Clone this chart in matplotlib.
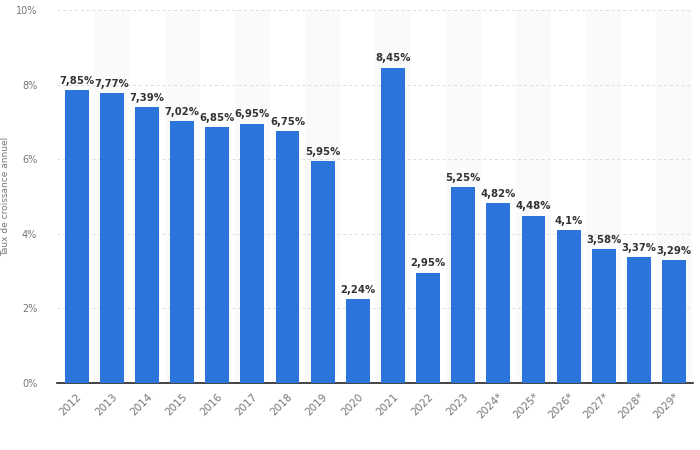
import matplotlib
matplotlib.use('Agg')
import matplotlib.pyplot as plt
from matplotlib.ticker import FuncFormatter

# Données
annees = ['2012', '2013', '2014', '2015', '2016', '2017', '2018', '2019', '2020',
          '2021', '2022', '2023', '2024*', '2025*', '2026*', '2027*', '2028*', '2029*']
taux = [7.85, 7.77, 7.39, 7.02, 6.85, 6.95, 6.75, 5.95, 2.24,
        8.45, 2.95, 5.25, 4.82, 4.48, 4.1, 3.58, 3.37, 3.29]
etiquettes = ['7,85%', '7,77%', '7,39%', '7,02%', '6,85%', '6,95%', '6,75%', '5,95%', '2,24%',
              '8,45%', '2,95%', '5,25%', '4,82%', '4,48%', '4,1%', '3,58%', '3,37%', '3,29%']

fig = plt.figure(figsize=(7, 4.5), dpi=100, facecolor='white')
ax = fig.add_axes([0.081, 0.149, 0.909, 0.829])

x = range(len(annees))

# bandes de fond alternées (très légères)
for i in x:
    if i % 2 == 1:
        ax.axvspan(i - 0.5, i + 0.5, color='#fafafa', zorder=0, lw=0)

ax.bar(x, taux, width=0.68, color='#2a74dc', zorder=3)

for i, v in enumerate(taux):
    ax.text(i, v + 0.12, etiquettes[i], ha='center', va='bottom',
            fontsize=7.3, fontweight='bold', color='#333333', zorder=4)

ax.set_xlim(-0.57, len(annees) - 0.46)
ax.set_ylim(0, 10)
ax.set_yticks([0, 2, 4, 6, 8, 10])
ax.yaxis.set_major_formatter(FuncFormatter(lambda v, p: f'{int(v)}%'))
ax.set_xticks(list(x))
ax.set_xticklabels(annees, rotation=45, ha='right', rotation_mode='anchor')

ax.grid(axis='y', color='#dddddd', linestyle=(0, (3, 3)), linewidth=0.7, zorder=1)
ax.set_axisbelow(True)

for s in ['top', 'right', 'left']:
    ax.spines[s].set_visible(False)
ax.spines['bottom'].set_color('#222222')
ax.spines['bottom'].set_linewidth(1.2)

ax.tick_params(axis='y', length=0, labelsize=7, colors='#777777', pad=14)
ax.tick_params(axis='x', length=0, labelsize=7.5, colors='#777777', pad=6)

ax.set_ylabel('Taux de croissance annuel', fontsize=6.5, color='#777777', labelpad=4)

fig.savefig('out.png', dpi=100)
